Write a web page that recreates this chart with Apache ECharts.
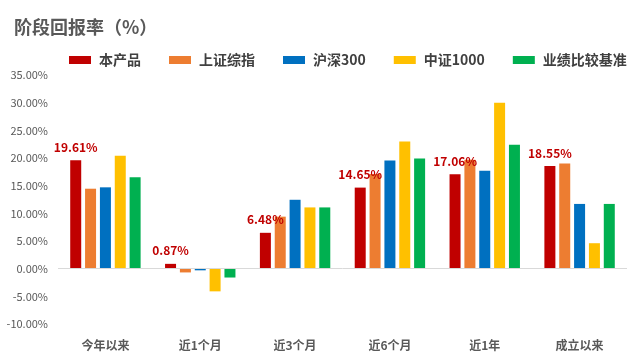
<!DOCTYPE html>
<html><head><meta charset="utf-8">
<script src="https://cdn.jsdelivr.net/npm/echarts@6/dist/echarts.min.js"></script>
<style>html,body{margin:0;padding:0;background:#fff}#c{width:640px;height:361px}</style>
</head><body><div id="c"></div>
<script>
const categories = ['今年以来','近1个月','近3个月','近6个月','近1年','成立以来'];
const seriesNames = ['本产品','上证综指','沪深300','中证1000','业绩比较基准'];
const product   = [19.61, 0.87, 6.48, 14.65, 17.06, 18.55];
const shIndex   = [14.45, -0.68, 9.40, 17.10, 19.70, 19.00];
const hs300     = [14.70, -0.30, 12.45, 19.55, 17.70, 11.70];
const zz1000    = [20.40, -4.10, 11.07, 23.00, 30.00, 4.60];
const benchmark = [16.50, -1.60, 11.07, 19.90, 22.40, 11.70];
const yTicks = {min: -10, max: 35, interval: 5};
const colors = ['#C00000','#ED7D31','#0070C0','#FFC000','#00B050'];
const values = [product, shIndex, hs300, zz1000, benchmark];
const font = '"Microsoft YaHei","Noto Sans CJK SC",sans-serif';

const chart = echarts.init(document.getElementById('c'));
chart.setOption({
  animation: false,
  title: {text: '阶段回报率（%）', left: 9, top: 13,
    textStyle: {fontSize: 18, fontWeight: 'bold', color: '#595959', fontFamily: font}},
  legend: {left: 64, top: 48, itemWidth: 22, itemHeight: 8, itemGap: 28,
    icon: 'rect',
    textStyle: {fontSize: 14, fontWeight: 'bold', color: '#404040', fontFamily: font, padding: [0,0,0,3]},
    data: seriesNames},
  grid: {left: 58, right: 13, top: 75, bottom: 37, containLabel: false, outerBoundsMode: 'none'},
  xAxis: {type: 'category', data: categories,
    axisLine: {show: false, onZero: false},
    axisTick: {show: false},
    axisLabel: {fontSize: 12, fontWeight: 'bold', color: '#595959', fontFamily: font, margin: 15}},
  yAxis: {type: 'value', min: yTicks.min, max: yTicks.max, interval: yTicks.interval,
    splitLine: {show: false}, axisLine: {show: false}, axisTick: {show: false},
    axisLabel: {fontSize: 11, color: '#595959', fontFamily: font, margin: 10,
      formatter: v => v.toFixed(2) + '%'}},
  series: seriesNames.map((n, i) => ({
    name: n, type: 'bar', data: values[i], barWidth: 11, barGap: '35%',
    itemStyle: {color: colors[i]},
    markLine: i === 0 ? {silent: true, symbol: 'none', label: {show: false},
      lineStyle: {color: '#D9D9D9', type: 'solid', width: 1}, data: [{yAxis: 0}]} : undefined,
    label: i === 0 ? {show: true, position: 'top', distance: 7,
      formatter: p => p.value.toFixed(2) + '%',
      fontSize: 12, fontWeight: 'bold', color: '#C00000', fontFamily: font} : {show: false}
  }))
});
</script></body></html>
